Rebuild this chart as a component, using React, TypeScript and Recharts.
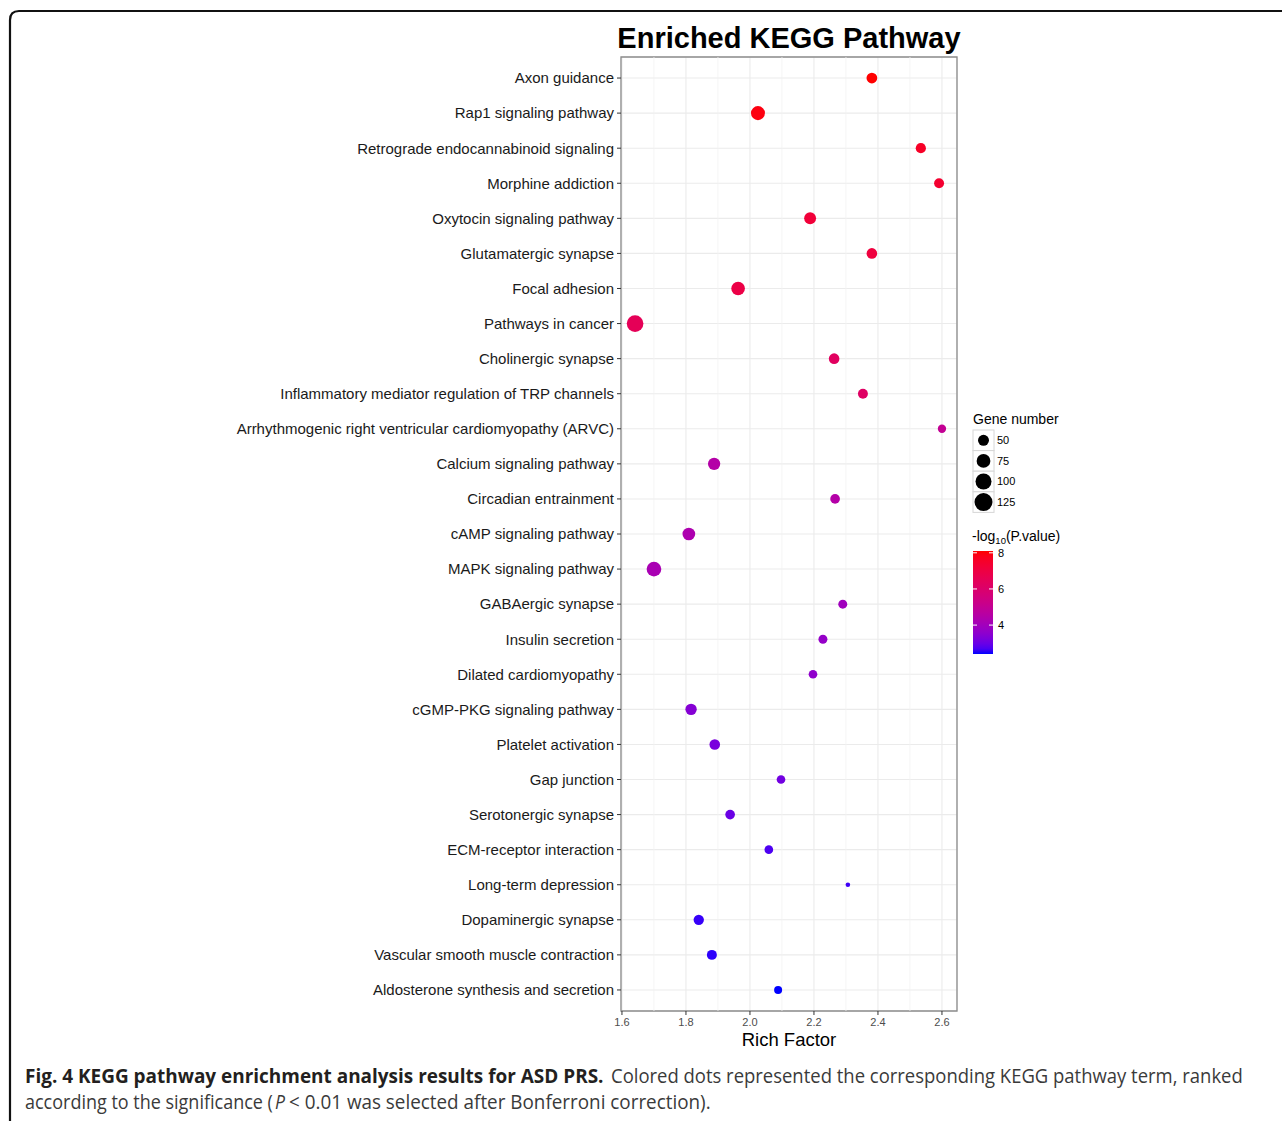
import React from "react";
import {
  ScatterChart,
  Scatter,
  XAxis,
  YAxis,
  ZAxis,
  CartesianGrid,
  ReferenceLine,
  ReferenceArea,
  Cell,
} from "recharts";

const pathways = [
  "Axon guidance",
  "Rap1 signaling pathway",
  "Retrograde endocannabinoid signaling",
  "Morphine addiction",
  "Oxytocin signaling pathway",
  "Glutamatergic synapse",
  "Focal adhesion",
  "Pathways in cancer",
  "Cholinergic synapse",
  "Inflammatory mediator regulation of TRP channels",
  "Arrhythmogenic right ventricular cardiomyopathy (ARVC)",
  "Calcium signaling pathway",
  "Circadian entrainment",
  "cAMP signaling pathway",
  "MAPK signaling pathway",
  "GABAergic synapse",
  "Insulin secretion",
  "Dilated cardiomyopathy",
  "cGMP-PKG signaling pathway",
  "Platelet activation",
  "Gap junction",
  "Serotonergic synapse",
  "ECM-receptor interaction",
  "Long-term depression",
  "Dopaminergic synapse",
  "Vascular smooth muscle contraction",
  "Aldosterone synthesis and secretion",
];

const richFactor = [
  2.381, 2.025, 2.534, 2.591, 2.188, 2.381, 1.963, 1.641, 2.263, 2.353, 2.6,
  1.888, 2.266, 1.809, 1.7, 2.29, 2.228, 2.197, 1.816, 1.89, 2.097, 1.938,
  2.059, 2.306, 1.84, 1.881, 2.088,
];

const geneNumber = [
  48, 78, 44, 42, 58, 47, 74, 108, 47, 42, 31, 61, 40, 65, 85, 35, 35, 33, 53,
  47, 33, 40, 33, 13, 45, 42, 29,
];

const negLog10P = [
  8.1, 7.95, 7.6, 7.4, 7.2, 7.1, 6.9, 6.5, 6.3, 6.2, 5.0, 4.5, 4.5, 4.3, 4.2,
  3.95, 3.7, 3.6, 3.4, 3.2, 3.1, 3.0, 2.7, 2.6, 2.55, 2.5, 2.4,
];

const xTicks = [1.6, 1.8, 2.0, 2.2, 2.4, 2.6];
const xMinor = [1.7, 1.9, 2.1, 2.3, 2.5];
const sizeLegend = [50, 75, 100, 125];
const colorLegend = [8, 6, 4];

const P_MIN = 2.4;
const P_MAX = 8.1;
const Z_DOMAIN: [number, number] = [10, 125];
const Z_RANGE: [number, number] = [10, 254];

// --- Lab colour interpolation (like ggplot's gradient) ---
function toLin(c: number) {
  c /= 255;
  return c <= 0.04045 ? c / 12.92 : Math.pow((c + 0.055) / 1.055, 2.4);
}
function fromLin(c: number) {
  const v = c <= 0.0031308 ? 12.92 * c : 1.055 * Math.pow(c, 1 / 2.4) - 0.055;
  return Math.max(0, Math.min(255, Math.round(v * 255)));
}
const WX = 0.95047, WY = 1, WZ = 1.08883;
function f(t: number) {
  return t > 0.008856 ? Math.cbrt(t) : 7.787 * t + 16 / 116;
}
function finv(t: number) {
  const t3 = t * t * t;
  return t3 > 0.008856 ? t3 : (t - 16 / 116) / 7.787;
}
function rgbToLab(r: number, g: number, b: number) {
  const R = toLin(r), G = toLin(g), B = toLin(b);
  const X = 0.4124564 * R + 0.3575761 * G + 0.1804375 * B;
  const Y = 0.2126729 * R + 0.7151522 * G + 0.072175 * B;
  const Z = 0.0193339 * R + 0.119192 * G + 0.9503041 * B;
  const fx = f(X / WX), fy = f(Y / WY), fz = f(Z / WZ);
  return [116 * fy - 16, 500 * (fx - fy), 200 * (fy - fz)];
}
function labToRgb(L: number, a: number, b: number) {
  const fy = (L + 16) / 116;
  const fx = fy + a / 500;
  const fz = fy - b / 200;
  const X = finv(fx) * WX, Y = finv(fy) * WY, Z = finv(fz) * WZ;
  const R = 3.2404542 * X - 1.5371385 * Y - 0.4985314 * Z;
  const G = -0.969266 * X + 1.8760108 * Y + 0.041556 * Z;
  const B = 0.0556434 * X - 0.2040259 * Y + 1.0572252 * Z;
  return `rgb(${fromLin(R)},${fromLin(G)},${fromLin(B)})`;
}
const LAB_LOW = rgbToLab(0, 0, 255);
const LAB_HIGH = rgbToLab(255, 0, 0);
function colorFor(v: number) {
  const t = Math.max(0, Math.min(1, (v - P_MIN) / (P_MAX - P_MIN)));
  return labToRgb(
    LAB_LOW[0] + (LAB_HIGH[0] - LAB_LOW[0]) * t,
    LAB_LOW[1] + (LAB_HIGH[1] - LAB_LOW[1]) * t,
    LAB_LOW[2] + (LAB_HIGH[2] - LAB_LOW[2]) * t
  );
}
function radiusFor(z: number) {
  const area =
    Z_RANGE[0] +
    ((z - Z_DOMAIN[0]) / (Z_DOMAIN[1] - Z_DOMAIN[0])) * (Z_RANGE[1] - Z_RANGE[0]);
  return Math.sqrt(area / Math.PI);
}

const data = pathways.map((name, i) => ({
  name,
  y: i + 1,
  x: richFactor[i],
  z: geneNumber[i],
  p: negLog10P[i],
}));
const yTicks = pathways.map((_, i) => i + 1);

const FONT = "'Liberation Sans', Arial, Helvetica, sans-serif";
const CAP_FONT = "'Open Sans', sans-serif";
const CAP_SIZE = 19.5;

// colour bar geometry
const CB_X = 973, CB_TOP = 551, CB_BOTTOM = 654, CB_W = 20;
const cbY = (v: number) => CB_TOP + ((P_MAX - v) / (P_MAX - P_MIN)) * (CB_BOTTOM - CB_TOP);

let measureCtx: CanvasRenderingContext2D | null = null;
function measure(text: string, weight: string, style: string) {
  if (!measureCtx) {
    const c = document.createElement("canvas");
    measureCtx = c.getContext("2d");
  }
  if (!measureCtx) return text.length * CAP_SIZE * 0.5;
  measureCtx.font = `${style} ${weight} ${CAP_SIZE}px 'Open Sans', sans-serif`;
  return measureCtx.measureText(text).width;
}

function CondensedText(props: {
  x: number;
  y: number;
  target: number;
  text: string;
  bold?: boolean;
  italic?: boolean;
  fill: string;
}) {
  const weight = props.bold ? "bold" : "normal";
  const style = props.italic ? "italic" : "normal";
  const w = measure(props.text, weight, style);
  const sx = w > 0 ? props.target / w : 1;
  return (
    <text
      transform={`translate(${props.x},${props.y}) scale(${sx},1)`}
      fontFamily={CAP_FONT}
      fontWeight={weight}
      fontStyle={style}
      fontSize={CAP_SIZE}
      fill={props.fill}
      style={{ whiteSpace: "pre" }}
    >
      {props.text}
    </text>
  );
}

export default function App() {
  const gradStops = Array.from({ length: 21 }, (_, i) => i / 20);
  return (
    <div
      style={{
        position: "absolute",
        left: 0,
        top: 0,
        width: 1282,
        height: 1121,
        overflow: "hidden",
        background: "#fff",
      }}
    >
      <div style={{ position: "absolute", left: 0, top: 0 }}>
        <ScatterChart
          width={1282}
          height={1121}
          margin={{ top: 57, right: 325, bottom: 70, left: 0 }}
        >
          <CartesianGrid stroke="#EBEBEB" strokeWidth={1.1} />
          {xMinor.map((v) => (
            <ReferenceLine key={v} x={v} stroke="#F3F3F3" strokeWidth={0.8} />
          ))}
          <XAxis
            type="number"
            dataKey="x"
            domain={[1.597, 2.647]}
            ticks={xTicks}
            allowDataOverflow
            tickFormatter={(v: number) => v.toFixed(1)}
            tick={{ fontSize: 11, fill: "#4D4D4D", fontFamily: FONT }}
            tickSize={4}
            tickMargin={3}
            tickLine={{ stroke: "#333" }}
            axisLine={false}
            height={40}
          />
          <YAxis
            type="number"
            dataKey="y"
            domain={[0.4, 27.6]}
            reversed
            ticks={yTicks}
            interval={0}
            allowDataOverflow
            tickFormatter={(v: number) => pathways[v - 1] ?? ""}
            tick={{ fontSize: 15, fill: "#1a1a1a", fontFamily: FONT }}
            tickSize={4}
            tickMargin={3}
            tickLine={{ stroke: "#333" }}
            axisLine={false}
            width={621}
          />
          <ZAxis type="number" dataKey="z" domain={Z_DOMAIN} range={Z_RANGE} />
          <ReferenceArea
            x1={1.597}
            x2={2.647}
            y1={0.4}
            y2={27.6}
            fill="none"
            stroke="#8c8c8c"
            strokeWidth={1.3}
            ifOverflow="visible"
          />
          <Scatter data={data} isAnimationActive={false} shape="circle">
            {data.map((d) => (
              <Cell key={d.name} fill={colorFor(d.p)} />
            ))}
          </Scatter>
        </ScatterChart>
      </div>
      <svg
        width={1282}
        height={1121}
        style={{ position: "absolute", left: 0, top: 0, pointerEvents: "none" }}
      >
        {/* frame */}
        <path
          d="M10,1121 L10,20 Q10,11 19,11 L1282,11"
          fill="none"
          stroke="#111"
          strokeWidth={2.2}
        />
        {/* title */}
        <text
          x={789}
          y={48}
          textAnchor="middle"
          fontFamily={FONT}
          fontWeight="bold"
          fontSize={29}
          fill="#000"
        >
          Enriched KEGG Pathway
        </text>
        {/* x axis title */}
        <text
          x={789}
          y={1046}
          textAnchor="middle"
          fontFamily={FONT}
          fontSize={18.5}
          fill="#000"
        >
          Rich Factor
        </text>

        {/* size legend */}
        <text x={973} y={424} fontFamily={FONT} fontSize={14} fill="#000">
          Gene number
        </text>
        {sizeLegend.map((v, i) => {
          const y0 = 430 + i * 20.6;
          return (
            <g key={v}>
              <rect
                x={973}
                y={y0}
                width={21}
                height={20.6}
                fill="#fff"
                stroke="#d6d6d6"
                strokeWidth={1}
              />
              <circle cx={983.5} cy={y0 + 10.3} r={radiusFor(v)} fill="#000" />
              <text
                x={997}
                y={y0 + 14}
                fontFamily={FONT}
                fontSize={11}
                fill="#000"
              >
                {v}
              </text>
            </g>
          );
        })}

        {/* colour legend */}
        <text x={972} y={541} fontFamily={FONT} fontSize={14} fill="#000">
          -log
          <tspan fontSize={9.5} dy={3}>
            10
          </tspan>
          <tspan dy={-3}>(P.value)</tspan>
        </text>
        <defs>
          <linearGradient id="cbar" x1="0" y1="0" x2="0" y2="1">
            {gradStops.map((s) => (
              <stop
                key={s}
                offset={s}
                stopColor={colorFor(P_MAX - s * (P_MAX - P_MIN))}
              />
            ))}
          </linearGradient>
        </defs>
        <rect
          x={CB_X}
          y={CB_TOP}
          width={CB_W}
          height={CB_BOTTOM - CB_TOP}
          fill="url(#cbar)"
        />
        {colorLegend.map((v) => (
          <g key={v}>
            <line
              x1={CB_X}
              x2={CB_X + 4}
              y1={cbY(v)}
              y2={cbY(v)}
              stroke="#fff"
              strokeWidth={1}
            />
            <line
              x1={CB_X + CB_W - 4}
              x2={CB_X + CB_W}
              y1={cbY(v)}
              y2={cbY(v)}
              stroke="#fff"
              strokeWidth={1}
            />
            <text
              x={998}
              y={cbY(v) + 4}
              fontFamily={FONT}
              fontSize={11}
              fill="#000"
            >
              {v}
            </text>
          </g>
        ))}

        {/* caption */}
        <CondensedText
          x={25}
          y={1083}
          target={579}
          bold
          fill="#231f20"
          text="Fig. 4 KEGG pathway enrichment analysis results for ASD PRS."
        />
        <CondensedText
          x={611}
          y={1083}
          target={632}
          fill="#3a3a3a"
          text="Colored dots represented the corresponding KEGG pathway term, ranked"
        />
        <CondensedText
          x={25}
          y={1109}
          target={248}
          fill="#3a3a3a"
          text="according to the significance ("
        />
        <CondensedText
          x={275}
          y={1109}
          target={10}
          italic
          fill="#3a3a3a"
          text="P"
        />
        <CondensedText
          x={289}
          y={1109}
          target={422}
          fill="#3a3a3a"
          text="< 0.01 was selected after Bonferroni correction)."
        />
      </svg>
    </div>
  );
}
